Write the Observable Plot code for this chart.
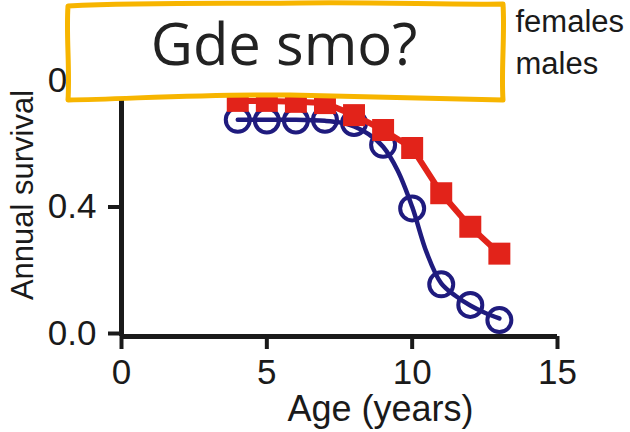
<!DOCTYPE html>
<html><head><meta charset="utf-8">
<script src="https://cdn.jsdelivr.net/npm/d3@7"></script>
<script src="https://cdn.jsdelivr.net/npm/@observablehq/plot@0.6"></script>
<style>
body{margin:0;background:#fff}
#wrap{position:relative;width:630px;height:432px;overflow:hidden}
</style>
</head><body><div id="wrap"></div>
<script>
// Data
const ages = [4, 5, 6, 7, 8, 9, 10, 11, 12, 13];
const females = [0.745, 0.745, 0.742, 0.738, 0.70, 0.653, 0.596, 0.453, 0.347, 0.262];
const males = [0.685, 0.683, 0.683, 0.685, 0.675, 0.606, 0.405, 0.165, 0.10, 0.052];
const fitAges = [4, 5, 6, 7, 7.5, 8, 8.5, 9, 9.5, 10, 10.5, 11, 11.5, 12, 12.5, 13];
const fitMales = [0.685, 0.685, 0.685, 0.682, 0.677, 0.664, 0.64, 0.60, 0.525, 0.41, 0.265, 0.168, 0.128, 0.098, 0.075, 0.057];
const xTicks = [0, 5, 10, 15];
const yTicks = [0, 0.4, 0.8];
const legendLabels = ["females", "males"];
const xLabel = "Age (years)";
const yLabel = "Annual survival";
const overlayTitle = "Gde smo?";

const red = "#e2231a";
const navy = "#1f1b7e";
const ink = "#1a1a1a";

const femaleData = ages.map((a, i) => ({age: a, s: females[i]}));
const maleData = ages.map((a, i) => ({age: a, s: males[i]}));
const fitData = fitAges.map((a, i) => ({age: a, s: fitMales[i]}));

const plot = Plot.plot({
  width: 630, height: 432,
  marginLeft: 121, marginRight: 73, marginTop: 83, marginBottom: 96,
  x: {domain: [0, 15]},
  y: {domain: [0, 0.8]},
  style: {fontFamily: "'Liberation Sans', Arial, Helvetica, sans-serif", color: ink, background: "white"},
  marks: [
    Plot.axisX({ticks: xTicks, tickSize: 13, tickPadding: 10, fontSize: 35, strokeWidth: 4, stroke: ink, fill: ink, label: null, tickFormat: d => String(d)}),
    Plot.axisY({ticks: yTicks, tickSize: 13, tickPadding: 12, fontSize: 35, strokeWidth: 4, stroke: ink, fill: ink, label: null, tickFormat: d3.format(".1f"), dy: -3}),
    Plot.ruleX([0], {stroke: ink, strokeWidth: 5}),
    Plot.ruleY([0], {x1: 0, x2: 15, stroke: ink, strokeWidth: 5}),
    Plot.line(fitData, {x: "age", y: "s", curve: "catmull-rom", stroke: navy, strokeWidth: 4.5}),
    Plot.dot(maleData, {x: "age", y: "s", r: 12, stroke: navy, strokeWidth: 4, fill: "none"}),
    Plot.line(femaleData, {x: "age", y: "s", stroke: red, strokeWidth: 6}),
    Plot.dot(femaleData, {x: "age", y: "s", symbol: "square", r: 12.4, fill: red}),
    Plot.text([xLabel], {frameAnchor: "bottom", textAnchor: "middle", lineAnchor: "middle", dx: 41, dy: 73, fontSize: 36, fill: ink}),
    Plot.text([yLabel], {frameAnchor: "left", textAnchor: "middle", lineAnchor: "middle", rotate: -90, dx: -98, dy: -15, fontSize: 31, fill: ink}),
    Plot.text([legendLabels[0]], {frameAnchor: "top-right", textAnchor: "start", lineAnchor: "middle", dx: -42, dy: -61, fontSize: 31, fill: ink}),
    Plot.text([legendLabels[1]], {frameAnchor: "top-right", textAnchor: "start", lineAnchor: "middle", dx: -42, dy: -19, fontSize: 31, fill: ink})
  ]
});

document.getElementById("wrap").appendChild(plot);

// Overlay annotation box drawn on top of the chart
const svg = d3.select(plot);
const g = svg.append("g");
g.append("path")
  .attr("d", "M68,6 C150,2 230,4 300,3 C380,2 450,5 503,4 C505,35 501,70 503,100 C430,98 360,96 290,95 C200,94 130,99 68,100 C70,70 66,35 68,6 Z")
  .attr("fill", "white")
  .attr("stroke", "#f7b500")
  .attr("stroke-width", 5)
  .attr("stroke-linejoin", "round");
g.append("text")
  .attr("x", 284).attr("y", 65)
  .attr("text-anchor", "middle")
  .attr("font-family", "'Open Sans', 'Noto Sans', sans-serif")
  .attr("font-size", 58)
  .attr("fill", "#222")
  .text(overlayTitle);
</script>
</body></html>
